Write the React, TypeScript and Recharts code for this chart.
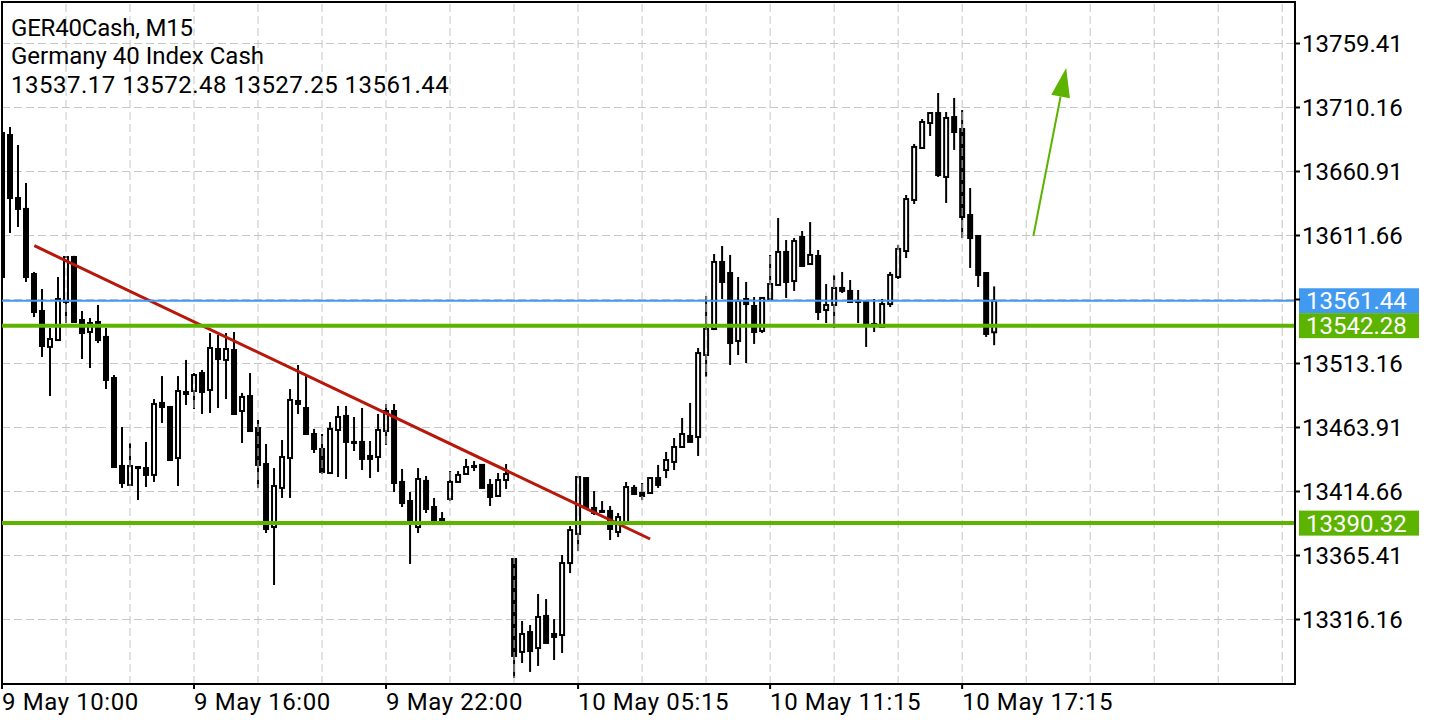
import React from 'react'
import { ComposedChart, Bar, XAxis, YAxis, CartesianGrid, ReferenceLine, ReferenceArea } from 'recharts'

// M15 candles (oldest first)
const opens = [
  13690.5, 13689.0, 13640.5, 13632.1, 13582.0, 13553.6, 13525.9, 13531.2, 13560.5, 13595.1,
  13546.6, 13537.4, 13545.1, 13533.6, 13502.0, 13434.3, 13419.7, 13433.5, 13432.7, 13427.4,
  13482.8, 13479.7, 13440.4, 13491.2, 13492.0, 13505.8, 13492.8, 13524.3, 13515.9, 13523.5,
  13476.6, 13488.1, 13463.5, 13435.8, 13387.3, 13417.4, 13440.4, 13484.3, 13478.9, 13458.9,
  13447.4, 13428.9, 13462.0, 13472.8, 13452.8, 13452.8, 13442.0, 13441.2, 13461.2, 13476.6,
  13422.0, 13407.3, 13387.3, 13422.8, 13402.7, 13393.5, 13408.9, 13422.0, 13428.1, 13433.5,
  13435.1, 13419.7, 13411.2, 13423.5, 13362.7, 13291.2, 13306.5, 13294.2, 13318.9, 13305.0,
  13304.2, 13359.6, 13382.0, 13425.0, 13402.0, 13399.7, 13399.7, 13383.5, 13390.4, 13417.4,
  13413.5, 13413.5, 13425.0, 13431.2, 13437.4, 13448.9, 13457.4, 13456.6, 13519.7, 13539.7,
  13591.3, 13582.8, 13530.5, 13562.8, 13557.4, 13538.2, 13562.8, 13573.6, 13599.0, 13576.6,
  13610.5, 13589.7, 13595.9, 13554.3, 13558.2, 13571.3, 13569.0, 13561.3, 13560.5, 13543.6,
  13541.3, 13558.9, 13579.7, 13599.7, 13639.0, 13679.0, 13698.2, 13705.9, 13656.7, 13702.8,
  13693.6, 13627.4, 13611.3, 13582.8, 13537.17,
]
const highs = [
  13696.7, 13695.2, 13681.3, 13652.1, 13583.6, 13570.5, 13540.5, 13579.7, 13595.9, 13596.0,
  13553.6, 13548.2, 13558.2, 13540.5, 13504.3, 13464.3, 13452.0, 13434.3, 13452.8, 13485.8,
  13503.5, 13480.0, 13503.5, 13515.9, 13505.8, 13508.2, 13536.6, 13535.1, 13536.6, 13537.4,
  13490.5, 13505.8, 13469.7, 13451.2, 13432.7, 13454.3, 13493.5, 13512.0, 13503.5, 13462.8,
  13458.9, 13468.1, 13480.5, 13480.5, 13472.0, 13478.9, 13453.5, 13474.3, 13482.0, 13482.0,
  13432.0, 13414.3, 13432.7, 13426.6, 13409.7, 13398.9, 13430.4, 13430.4, 13439.7, 13438.1,
  13435.8, 13424.3, 13428.9, 13435.8, 13362.9, 13315.0, 13311.9, 13335.8, 13331.9, 13316.5,
  13365.8, 13388.1, 13426.0, 13425.2, 13415.0, 13407.3, 13403.5, 13398.1, 13422.0, 13419.7,
  13421.2, 13425.8, 13435.1, 13445.1, 13455.8, 13471.2, 13482.8, 13525.1, 13565.1, 13597.4,
  13603.6, 13596.7, 13579.7, 13575.9, 13564.3, 13563.8, 13596.7, 13625.1, 13608.2, 13609.7,
  13615.1, 13622.0, 13600.5, 13574.3, 13581.3, 13583.6, 13577.4, 13569.7, 13560.7, 13562.8,
  13562.8, 13583.6, 13604.4, 13642.8, 13682.1, 13701.3, 13706.7, 13721.3, 13706.7, 13717.5,
  13708.2, 13648.2, 13611.5, 13583.0, 13572.48,
]
const lows = [
  13579.0, 13613.6, 13618.2, 13575.9, 13548.9, 13518.2, 13488.1, 13530.5, 13544.3, 13544.3,
  13516.6, 13509.7, 13528.9, 13493.5, 13433.0, 13417.4, 13419.0, 13408.1, 13418.1, 13422.0,
  13467.4, 13438.1, 13418.9, 13481.2, 13478.1, 13474.3, 13475.1, 13478.9, 13485.8, 13474.0,
  13452.0, 13460.5, 13417.4, 13382.7, 13342.7, 13409.7, 13409.7, 13474.3, 13458.1, 13444.3,
  13428.1, 13428.1, 13425.8, 13424.3, 13445.8, 13431.2, 13425.0, 13429.7, 13450.5, 13414.3,
  13402.7, 13358.9, 13382.7, 13398.1, 13391.0, 13389.7, 13407.3, 13421.8, 13428.0, 13430.4,
  13417.2, 13403.5, 13410.4, 13416.6, 13271.1, 13282.7, 13275.8, 13280.4, 13297.8, 13285.0,
  13290.4, 13351.9, 13368.9, 13402.5, 13396.6, 13398.1, 13377.3, 13379.6, 13390.2, 13412.5,
  13408.1, 13413.3, 13417.4, 13425.0, 13431.2, 13448.7, 13452.5, 13442.0, 13502.8, 13538.9,
  13562.8, 13512.0, 13519.7, 13513.5, 13528.2, 13536.6, 13562.6, 13573.4, 13563.6, 13569.0,
  13587.4, 13589.5, 13546.6, 13544.3, 13540.5, 13567.4, 13560.3, 13544.3, 13525.9, 13537.4,
  13541.0, 13556.6, 13578.2, 13594.3, 13635.9, 13678.8, 13688.2, 13656.7, 13636.7, 13677.5,
  13609.7, 13586.7, 13572.0, 13533.6, 13527.25,
]
const closes = [
  13579.7, 13640.5, 13632.1, 13579.7, 13552.8, 13526.6, 13532.0, 13562.8, 13595.1, 13545.1,
  13536.6, 13544.3, 13531.2, 13500.5, 13433.5, 13421.2, 13434.3, 13432.7, 13427.4, 13482.0,
  13479.7, 13438.9, 13492.0, 13489.7, 13504.3, 13491.2, 13525.1, 13516.6, 13524.3, 13474.3,
  13487.4, 13461.2, 13435.1, 13385.8, 13418.9, 13441.2, 13485.1, 13482.0, 13458.9, 13447.4,
  13429.7, 13462.8, 13472.0, 13452.8, 13452.0, 13439.7, 13439.7, 13462.0, 13476.6, 13421.2,
  13405.8, 13391.2, 13424.3, 13401.2, 13391.2, 13390.4, 13422.0, 13427.4, 13433.5, 13434.3,
  13417.4, 13410.4, 13423.5, 13428.1, 13288.1, 13305.0, 13291.9, 13318.1, 13298.1, 13302.7,
  13359.6, 13385.0, 13425.8, 13402.7, 13398.1, 13398.9, 13385.8, 13395.0, 13418.1, 13412.7,
  13411.2, 13425.0, 13419.7, 13438.9, 13448.9, 13458.9, 13452.8, 13521.2, 13539.7, 13591.3,
  13575.9, 13528.9, 13561.3, 13558.9, 13537.4, 13563.6, 13574.3, 13599.0, 13575.9, 13607.4,
  13588.2, 13596.7, 13552.8, 13558.2, 13571.3, 13569.0, 13560.5, 13560.5, 13542.8, 13542.8,
  13558.9, 13581.3, 13601.3, 13639.7, 13679.8, 13699.0, 13705.9, 13658.2, 13702.1, 13691.3,
  13625.9, 13609.7, 13581.3, 13535.9, 13561.44,
]

const timeTicks = [0, 24, 48, 72, 96, 120]
const timeLabels = ['9 May 10:00', '9 May 16:00', '9 May 22:00', '10 May 05:15', '10 May 11:15', '10 May 17:15']
const gridX = [8, 16, 24, 32, 40, 48, 56, 64, 72, 80, 88, 96, 104, 112, 120, 128, 136, 144, 152, 160]
const priceTicks = [13316.16, 13365.41, 13414.66, 13463.91, 13513.16, 13562.41, 13611.66, 13660.91, 13710.16, 13759.41]

const lastPrice = 13561.44
const levels = [13542.28, 13390.32]
const trendLine = [{ x: 4.04, y: 13603.8 }, { x: 81, y: 13378.1 }]
const arrowLine = [{ x: 128.9, y: 13611.3 }, { x: 133, y: 13740.5 }]

const X_DOMAIN: [number, number] = [0, 161.6]
const Y_DOMAIN: [number, number] = [13266.52, 13791.34]

const GREEN = '#5cb300'
const BLUE = '#4299f0'
const RED = '#b8170b'
const FONT = 'Roboto, sans-serif'
const FS = 24

const data = opens.map((o, i) => ({
  i,
  open: o,
  high: highs[i],
  low: lows[i],
  close: closes[i],
  range: [lows[i], highs[i]],
}))

const Candle = (props: any) => {
  const { x, y, width, height, payload } = props
  if (!payload || x == null) return null
  const { open, close, high, low } = payload
  const top = Math.min(y, y + height)
  const h = Math.abs(height)
  const cx = x + width / 2
  const k = h / (high - low || 1)
  const yOf = (v: number) => top + (high - v) * k
  const bTop = yOf(Math.max(open, close))
  const bBot = yOf(Math.min(open, close))
  const bull = close >= open
  return (
    <g>
      <line x1={cx} x2={cx} y1={top} y2={top + h} stroke="#000" strokeWidth={2} />
      <rect x={cx - 2} y={bTop} width={4} height={Math.max(bBot - bTop, 0.5)}
        fill={bull ? '#fff' : '#000'} stroke="#000" strokeWidth={2} />
    </g>
  )
}

const PriceTag = ({ viewBox, value, color }: any) => {
  if (!viewBox) return null
  const x = viewBox.x + viewBox.width + 4
  const y = viewBox.y
  return (
    <g>
      <rect x={x} y={y - 12.5} width={120} height={25} fill={color} />
      <text x={x + 7} y={y + 8.5} fill="#fff" fontSize={FS} fontFamily={FONT}>
        {value.toFixed(2)}
      </text>
    </g>
  )
}

const Arrow = (p: any) => {
  const { x1, y1, x2, y2 } = p
  const dx = x2 - x1
  const dy = y2 - y1
  const len = Math.hypot(dx, dy) || 1
  const ux = dx / len
  const uy = dy / len
  const head = 29
  const half = 9.5
  const bx = x2 - ux * head
  const by = y2 - uy * head
  return (
    <g>
      <line x1={x1} y1={y1} x2={bx} y2={by} stroke={GREEN} strokeWidth={2} />
      <polygon
        points={`${x2},${y2} ${bx - uy * half},${by + ux * half} ${bx + uy * half},${by - ux * half}`}
        fill={GREEN}
      />
    </g>
  )
}

const TimeTick = ({ x, index }: any) => (
  <text x={x} y={710} fontSize={FS} fontFamily={FONT} letterSpacing={0.6} fill="#000">
    {timeLabels[index]}
  </text>
)

// the tag of the last price covers the tick label beneath it
const PriceTick = ({ x, y, payload }: any) => {
  if (Math.abs(payload.value - lastPrice) < 5) return <g />
  return (
    <text x={x} y={y + 8.5} fontSize={FS} fontFamily={FONT} fill="#000">
      {payload.value.toFixed(2)}
    </text>
  )
}

export default function App() {
  const last = data[data.length - 1]
  const header = [
    'GER40Cash, M15',
    'Germany 40 Index Cash',
    `${last.open.toFixed(2)} ${last.high.toFixed(2)} ${last.low.toFixed(2)} ${last.close.toFixed(2)}`,
  ]
  const headerY = [36, 63.5, 93]
  const headerSpacing = [-0.2, 0, 0.5]
  return (
    <div style={{ position: 'absolute', left: 0, top: 0, width: 1440, height: 720, background: '#fff' }}>
      <ComposedChart width={1440} height={720} data={data} margin={{ top: 2, right: 0, bottom: 0, left: 2 }}>
        <CartesianGrid vertical={false} stroke="#c6c6c6" strokeDasharray="8 4" />
        {gridX.map((gx) => (
          <ReferenceLine key={gx} x={gx} stroke="#c6c6c6" strokeDasharray="8 4" />
        ))}
        <XAxis
          dataKey="i"
          type="number"
          domain={X_DOMAIN}
          allowDataOverflow
          ticks={timeTicks}
          tick={<TimeTick />}
          tickSize={5}
          tickMargin={2}
          height={36}
          stroke="#000"
          strokeWidth={2}
          interval={0}
        />
        <YAxis
          orientation="right"
          domain={Y_DOMAIN}
          allowDataOverflow
          ticks={priceTicks}
          tick={<PriceTick />}
          tickSize={5}
          tickMargin={2}
          width={145}
          stroke="#000"
          strokeWidth={2}
          interval={0}
        />
        <ReferenceArea x1={X_DOMAIN[0]} x2={X_DOMAIN[1]} y1={Y_DOMAIN[0]} y2={Y_DOMAIN[1]}
          fill="none" stroke="#000" strokeWidth={2} />
        <Bar dataKey="range" barSize={6} shape={<Candle />} isAnimationActive={false} />
        <ReferenceLine segment={trendLine} stroke={RED} strokeWidth={3} />
        <ReferenceLine segment={arrowLine} shape={<Arrow />} />
        <ReferenceLine y={lastPrice} stroke={BLUE} strokeWidth={2}
          label={<PriceTag value={lastPrice} color={BLUE} />} />
        {levels.map((lv) => (
          <ReferenceLine key={lv} y={lv} stroke={GREEN} strokeWidth={4}
            label={<PriceTag value={lv} color={GREEN} />} />
        ))}
      </ComposedChart>
      <svg width={470} height={110} style={{ position: 'absolute', left: 0, top: 0 }}>
        {header.map((t, i) => (
          <text key={i} x={11} y={headerY[i]} fontSize={FS} fontFamily={FONT}
            letterSpacing={headerSpacing[i]} fill="#000">{t}</text>
        ))}
      </svg>
    </div>
  )
}
